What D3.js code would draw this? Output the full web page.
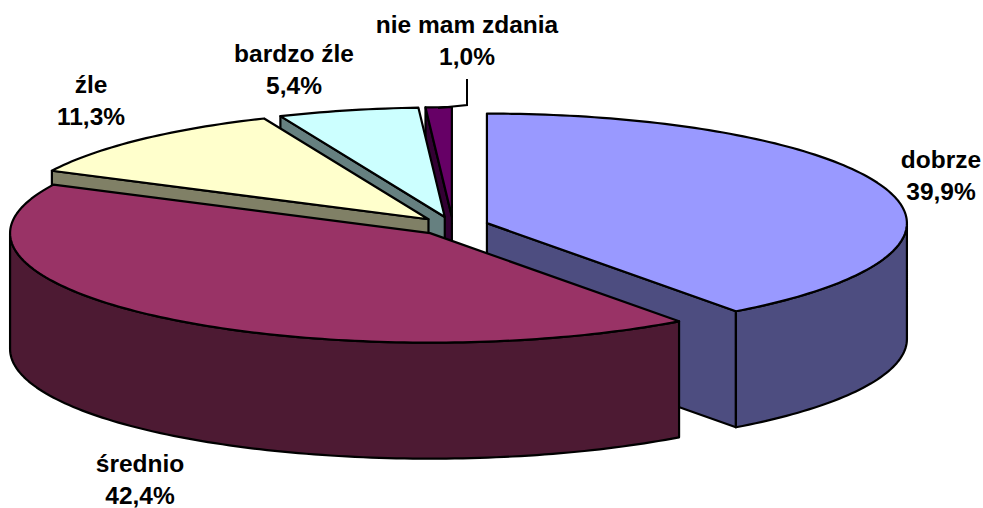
<!DOCTYPE html>
<html><head><meta charset="utf-8">
<script src="https://cdn.jsdelivr.net/npm/d3@7"></script>
<style>html,body{margin:0;background:#fff}svg{display:block}</style>
</head><body>
<svg id="c" width="983" height="508"></svg>
<script>
const categories = ["dobrze","średnio","źle","bardzo źle","nie mam zdania"];
const values = [39.9,42.4,11.3,5.4,1.0];
const valueLabels = ["39,9%","42,4%","11,3%","5,4%","1,0%"];
const topColors = ["#9999FF","#993366","#FFFFCC","#CCFFFF","#660066"];
const sideColors = ["#4D4D80","#4D1A33","#808066","#668080","#330033"];
const labelPos = [[941,168],[140,472],[91,93],[294,62],[467,33]];
const drawOrder = [4,3,2,0,1];

const cx=453, cy=226, rx=420, ry=109.5, depth=116, explode=0.085;
const svg=d3.select("#c");
const arcs=d3.pie().sort(null).value(d=>d)(values);
const sx=d3.scaleLinear().domain([-1,1]).range([cx-rx,cx+rx]);
const sy=d3.scaleLinear().domain([-1,1]).range([cy-ry,cy+ry]);
const line=d3.line();

function pt(o,a,r,dz){
  return [sx(o[0]+r*Math.sin(a)), sy(o[1]-r*Math.cos(a))+dz];
}
function samples(a0,a1){
  const n=Math.max(2,Math.ceil((a1-a0)/0.02));
  return d3.range(n+1).map(i=>a0+(a1-a0)*i/n);
}
const g=svg.append("g").attr("stroke","#000").attr("stroke-width",2.2).attr("stroke-linejoin","round");
drawOrder.forEach(i=>{
  const d=arcs[i], mid=(d.startAngle+d.endAngle)/2;
  const o=[explode*Math.sin(mid),-explode*Math.cos(mid)];
  const wall=a=>[pt(o,0,0,0),pt(o,a,1,0),pt(o,a,1,depth),pt(o,0,0,depth)];
  if(Math.sin(d.startAngle)<0) g.append("path").attr("d",line(wall(d.startAngle))+"Z").attr("fill",sideColors[i]);
  if(Math.sin(d.endAngle)>0) g.append("path").attr("d",line(wall(d.endAngle))+"Z").attr("fill",sideColors[i]);
  const lo=Math.max(d.startAngle,Math.PI/2), hi=Math.min(d.endAngle,Math.PI*1.5);
  if(hi>lo){
    const s=samples(lo,hi);
    const outer=s.map(a=>pt(o,a,1,0)).concat(s.slice().reverse().map(a=>pt(o,a,1,depth)));
    g.append("path").attr("d",line(outer)+"Z").attr("fill",sideColors[i]);
  }
  const top=[pt(o,0,0,0)].concat(samples(d.startAngle,d.endAngle).map(a=>pt(o,a,1,0)));
  g.append("path").attr("d",line(top)+"Z").attr("fill",topColors[i]);
});
const leader=[[467,79],[467,105],[438,108]];
svg.append("path").attr("d",line(leader)).attr("fill","none").attr("stroke","#000").attr("stroke-width",2);

categories.forEach((c,i)=>{
  const t=svg.append("text").attr("x",labelPos[i][0]).attr("y",labelPos[i][1])
    .attr("text-anchor","middle").attr("font-family","Liberation Sans, Arial, sans-serif")
    .attr("font-weight","bold").attr("font-size",24.5).attr("fill","#000");
  t.append("tspan").attr("x",labelPos[i][0]).text(c);
  t.append("tspan").attr("x",labelPos[i][0]).attr("dy",32).text(valueLabels[i]);
});
</script>
</body></html>
